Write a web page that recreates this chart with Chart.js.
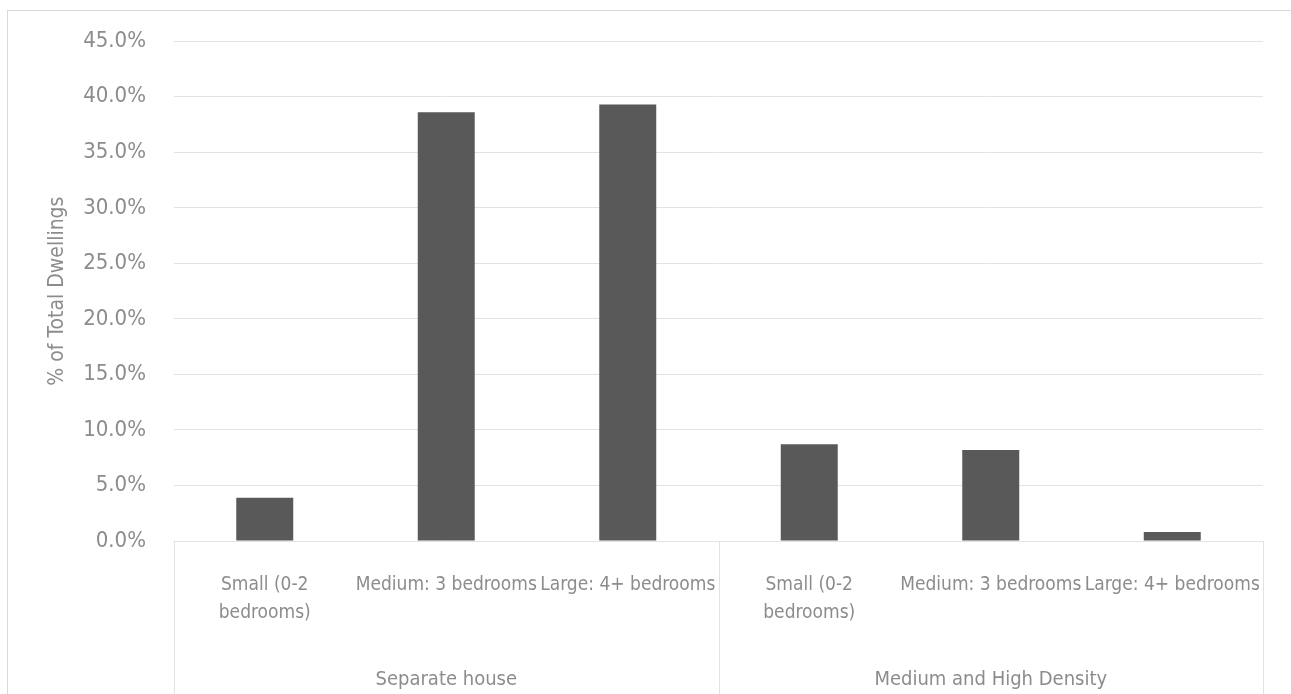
<!DOCTYPE html>
<html>
<head>
<meta charset="utf-8">
<script src="https://cdn.jsdelivr.net/npm/chart.js@4"></script>
<style>
  html, body { margin: 0; padding: 0; background: #fff; overflow: hidden; }
  #frame { position: absolute; left: 7px; top: 10px; width: 1300px; height: 700px; border: 1px solid #d9d9d9; }
  #wrap { position: absolute; left: 0; top: 0; width: 1291px; height: 694px; }
</style>
</head>
<body>
<div id="frame"></div>
<div id="wrap"><canvas id="grafica"></canvas></div>
<script>
// data
var subLabels = [
  ['Small (0-2', 'bedrooms)'], 'Medium: 3 bedrooms', 'Large: 4+ bedrooms',
  ['Small (0-2', 'bedrooms)'], 'Medium: 3 bedrooms', 'Large: 4+ bedrooms'
]
var groupLabels = ['Separate house', 'Medium and High Density']
var valores = [3.9, 38.6, 39.3, 8.7, 8.2, 0.8]
var yTicks = [0, 5, 10, 15, 20, 25, 30, 35, 40, 45]

var fuente = "'DejaVu Sans Condensed', 'Liberation Sans Narrow', 'DejaVu Sans', sans-serif"
var gris = '#8c8c8c'
var linea = '#e3e3e3'

// vertical separators of the category box (edges + group boundary)
const separadores = {
  id: 'separadores',
  afterDraw(chart) {
    const ctx = chart.ctx
    const x = chart.scales.x
    const area = chart.chartArea
    const n = subLabels.length
    const half = n / 2
    const xs = [x.left, (x.getPixelForValue(half - 1) + x.getPixelForValue(half)) / 2, x.right]
    ctx.save()
    ctx.strokeStyle = linea
    ctx.lineWidth = 1
    xs.forEach(function(px){
      ctx.beginPath()
      ctx.moveTo(Math.round(px) + 0.5, area.bottom)
      ctx.lineTo(Math.round(px) + 0.5, chart.height)
      ctx.stroke()
    })
    ctx.restore()
  }
}

const ctx = document.getElementById('grafica');
const myChart = new Chart(ctx, {
  type: 'bar',
  data: {
    labels: subLabels,
    datasets: [{
      label: '% of Total Dwellings',
      data: valores,
      backgroundColor: '#595959',
      borderWidth: 0,
      barPercentage: 0.314,
      categoryPercentage: 1
    }]
  },
  options: {
    responsive: true,
    maintainAspectRatio: false,
    animation: false,
    layout: { padding: { left: 7, top: 41, right: 28, bottom: 0 } },
    plugins: { legend: { display: false }, tooltip: { enabled: false } },
    scales: {
      y: {
        min: 0,
        max: 45,
        afterBuildTicks: function(scale){ scale.ticks = yTicks.map(function(v){ return { value: v } }) },
        afterFit: function(scale){ scale.width = 167 },
        grid: { color: linea, drawTicks: false, lineWidth: 1 },
        border: { display: false },
        ticks: {
          color: gris,
          padding: 28,
          font: { family: fuente, size: 22 },
          callback: function(v){ return v.toFixed(1) + '%' }
        },
        title: {
          display: true,
          text: '% of Total Dwellings',
          color: gris,
          font: { family: fuente, size: 21 },
          padding: { top: 38, bottom: 0 }
        }
      },
      x: {
        afterFit: function(scale){ scale.height = 94 },
        grid: { display: false },
        border: { display: true, color: linea },
        ticks: {
          color: gris,
          padding: 22,
          maxRotation: 0,
          autoSkip: false,
          font: { family: fuente, size: 19, lineHeight: 1.47 }
        }
      },
      x2: {
        type: 'category',
        labels: groupLabels,
        position: 'bottom',
        offset: true,
        afterFit: function(scale){ scale.height = 59 },
        grid: { display: false },
        border: { display: false },
        ticks: {
          color: gris,
          padding: 23,
          maxRotation: 0,
          font: { family: fuente, size: 20, lineHeight: 1.4 }
        }
      }
    }
  },
  plugins: [separadores]
});
</script>
</body>
</html>
